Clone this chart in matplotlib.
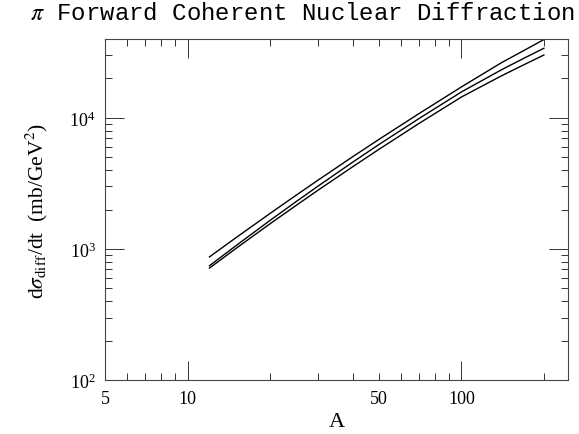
import numpy as np
import matplotlib
matplotlib.use('Agg')
import matplotlib.pyplot as plt
from matplotlib.ticker import FixedLocator, FuncFormatter, NullFormatter

# values (log-log)
A = [12, 15, 20, 25, 30, 40, 50, 70, 100, 140, 170, 200]
sigma_upper = [870, 1220, 1870, 2590, 3365, 5050, 6870, 10800, 17250, 26400, 32900, 39600]
sigma_middle = [745, 1060, 1655, 2315, 3030, 4590, 6280, 9900, 15800, 23300, 28700, 34000]
sigma_lower = [715, 1010, 1560, 2165, 2820, 4235, 5770, 9085, 14450, 20950, 25600, 30200]

x_major = [10, 100]
x_minor = [5, 6, 7, 8, 9, 20, 30, 40, 50, 60, 70, 80, 90, 200]
x_minor_labeled = [5, 50]

plt.rcParams['font.family'] = ['Liberation Serif', 'DejaVu Serif']
plt.rcParams['mathtext.fontset'] = 'stix'

fig = plt.figure(figsize=(5.79, 4.35), dpi=100)
ax = fig.add_axes([0.182, 0.124, 0.799, 0.784])

for s in (sigma_upper, sigma_middle, sigma_lower):
    ax.plot(A, s, color='black', lw=1.0)

ax.set_xscale('log')
ax.set_yscale('log')
ax.set_xlim(5, 245)
ax.set_ylim(100, 4e4)

ax.xaxis.set_major_locator(FixedLocator(x_major))
ax.xaxis.set_minor_locator(FixedLocator(x_minor))
ax.xaxis.set_major_formatter(FuncFormatter(lambda v, p: f'{v:g}'))
ax.xaxis.set_minor_formatter(
    FuncFormatter(lambda v, p: f'{v:g}' if round(v) in x_minor_labeled else ''))
ax.yaxis.set_minor_formatter(NullFormatter())

ax.tick_params(which='both', direction='in', top=True, right=True,
               labelsize=13, width=0.7, color='#333333')
ax.tick_params(which='major', length=14, pad=7)
ax.tick_params(which='minor', length=5, pad=7)
for sp in ax.spines.values():
    sp.set_linewidth(0.8)
    sp.set_color('#444444')

ax.set_xlabel('A', fontsize=16, labelpad=4)
ax.set_ylabel(r'd$\sigma_{\rm diff}$/dt  (mb/GeV$^2$)', fontsize=15.5, labelpad=14)

fig.text(0.523, 0.968, r'$\pi$ Forward Coherent Nuclear Diffraction',
         ha='center', va='center', fontsize=17.3, family='Liberation Mono')

fig.savefig('out.png', dpi=100)
